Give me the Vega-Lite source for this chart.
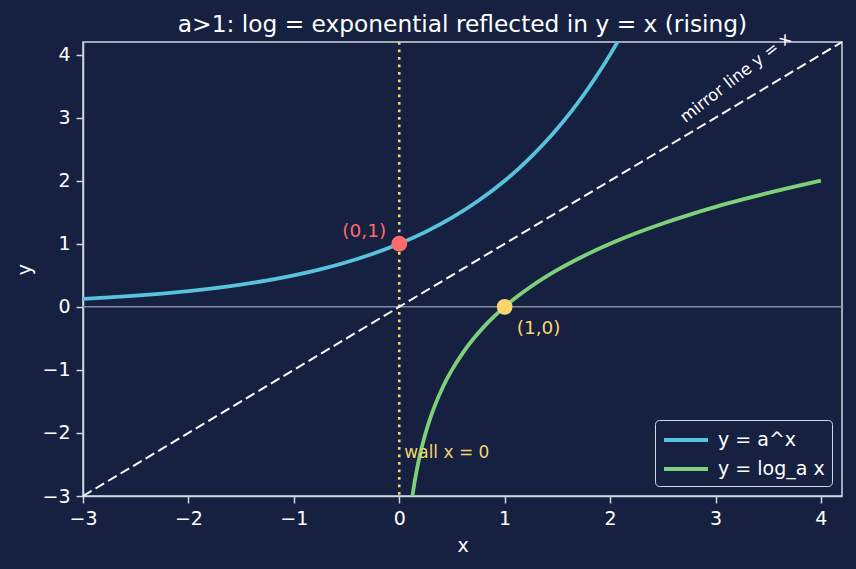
{
  "$schema": "https://vega.github.io/schema/vega-lite/v6.json",
  "width": 759,
  "height": 454,
  "autosize": {"type": "none"},
  "padding": {"left": 83, "top": 42, "right": 14, "bottom": 73},
  "background": "#162040",
  "title": {"text": "a>1: log = exponential reflected in y = x (rising)", "color": "#ffffff", "font": "DejaVu Sans", "fontSize": 23.3, "fontWeight": "normal", "offset": -7},
  "config": {
    "view": {"stroke": "#d0d6e0", "strokeWidth": 1.5},
    "axis": {"labelFont": "DejaVu Sans", "titleFont": "DejaVu Sans", "labelFontSize": 19, "titleFontSize": 19, "titleFontWeight": "normal", "labelColor": "#ffffff", "titleColor": "#ffffff", "domainColor": "#d0d6e0", "tickColor": "#d0d6e0", "grid": false, "tickSize": 7, "labelPadding": 6, "domainWidth": 1.5, "tickWidth": 1.5, "format": "d", "labelFlush": false}
  },
  "datasets": {
    "curves": [
      {"x": -3, "y": 0.125, "s": "y = a^x"},
      {"x": -2.75, "y": 0.1487, "s": "y = a^x"},
      {"x": -2.5, "y": 0.1768, "s": "y = a^x"},
      {"x": -2.25, "y": 0.2102, "s": "y = a^x"},
      {"x": -2, "y": 0.25, "s": "y = a^x"},
      {"x": -1.75, "y": 0.2973, "s": "y = a^x"},
      {"x": -1.5, "y": 0.3536, "s": "y = a^x"},
      {"x": -1.25, "y": 0.4204, "s": "y = a^x"},
      {"x": -1, "y": 0.5, "s": "y = a^x"},
      {"x": -0.75, "y": 0.5946, "s": "y = a^x"},
      {"x": -0.5, "y": 0.7071, "s": "y = a^x"},
      {"x": -0.25, "y": 0.8409, "s": "y = a^x"},
      {"x": 0, "y": 1, "s": "y = a^x"},
      {"x": 0.25, "y": 1.1892, "s": "y = a^x"},
      {"x": 0.5, "y": 1.4142, "s": "y = a^x"},
      {"x": 0.75, "y": 1.6818, "s": "y = a^x"},
      {"x": 1, "y": 2, "s": "y = a^x"},
      {"x": 1.125, "y": 2.181, "s": "y = a^x"},
      {"x": 1.25, "y": 2.3784, "s": "y = a^x"},
      {"x": 1.375, "y": 2.5937, "s": "y = a^x"},
      {"x": 1.5, "y": 2.8284, "s": "y = a^x"},
      {"x": 1.625, "y": 3.0844, "s": "y = a^x"},
      {"x": 1.75, "y": 3.3636, "s": "y = a^x"},
      {"x": 1.875, "y": 3.668, "s": "y = a^x"},
      {"x": 2, "y": 4, "s": "y = a^x"},
      {"x": 2.07, "y": 4.199, "s": "y = a^x"},
      {"x": 0.125, "y": -3, "s": "y = log_a x"},
      {"x": 0.15, "y": -2.737, "s": "y = log_a x"},
      {"x": 0.175, "y": -2.515, "s": "y = log_a x"},
      {"x": 0.2, "y": -2.322, "s": "y = log_a x"},
      {"x": 0.25, "y": -2, "s": "y = log_a x"},
      {"x": 0.3, "y": -1.737, "s": "y = log_a x"},
      {"x": 0.35, "y": -1.515, "s": "y = log_a x"},
      {"x": 0.4, "y": -1.322, "s": "y = log_a x"},
      {"x": 0.45, "y": -1.152, "s": "y = log_a x"},
      {"x": 0.5, "y": -1, "s": "y = log_a x"},
      {"x": 0.6, "y": -0.737, "s": "y = log_a x"},
      {"x": 0.7, "y": -0.515, "s": "y = log_a x"},
      {"x": 0.8, "y": -0.322, "s": "y = log_a x"},
      {"x": 0.9, "y": -0.152, "s": "y = log_a x"},
      {"x": 1, "y": 0, "s": "y = log_a x"},
      {"x": 1.125, "y": 0.17, "s": "y = log_a x"},
      {"x": 1.25, "y": 0.322, "s": "y = log_a x"},
      {"x": 1.5, "y": 0.585, "s": "y = log_a x"},
      {"x": 1.75, "y": 0.807, "s": "y = log_a x"},
      {"x": 2, "y": 1, "s": "y = log_a x"},
      {"x": 2.25, "y": 1.17, "s": "y = log_a x"},
      {"x": 2.5, "y": 1.322, "s": "y = log_a x"},
      {"x": 2.75, "y": 1.459, "s": "y = log_a x"},
      {"x": 3, "y": 1.585, "s": "y = log_a x"},
      {"x": 3.25, "y": 1.7, "s": "y = log_a x"},
      {"x": 3.5, "y": 1.807, "s": "y = log_a x"},
      {"x": 3.75, "y": 1.907, "s": "y = log_a x"},
      {"x": 4, "y": 2, "s": "y = log_a x"}
    ]
  },
  "layer": [
    {
      "data": {"values": [{"y": 0}]},
      "mark": {"type": "rule", "color": "#7f8aa3", "strokeWidth": 1.5},
      "encoding": {"y": {"field": "y", "type": "quantitative", "scale": {"domain": [-3, 4.2], "nice": false, "zero": false}, "axis": {"values": [-3, -2, -1, 0, 1, 2, 3, 4], "title": "y", "titlePadding": 7}}}
    },
    {
      "data": {"values": [{"x": 0}]},
      "mark": {"type": "rule", "color": "#f2d472", "strokeWidth": 2.6, "strokeDash": [2.8, 4.7]},
      "encoding": {"x": {"field": "x", "type": "quantitative", "scale": {"domain": [-3, 4.2], "nice": false, "zero": false}, "axis": {"values": [-3, -2, -1, 0, 1, 2, 3, 4], "title": "x", "titlePadding": 8}}}
    },
    {
      "data": {"values": [{"x": -3, "y": -3}, {"x": 4.2, "y": 4.2}]},
      "mark": {"type": "line", "color": "#ffffff", "strokeWidth": 2, "strokeDash": [10, 4.6]},
      "encoding": {"x": {"field": "x", "type": "quantitative"}, "y": {"field": "y", "type": "quantitative"}}
    },
    {
      "data": {"name": "curves"},
      "mark": {"type": "line", "strokeWidth": 3.8, "clip": true, "interpolate": "monotone"},
      "encoding": {
        "x": {"field": "x", "type": "quantitative"},
        "y": {"field": "y", "type": "quantitative"},
        "color": {"field": "s", "type": "nominal", "scale": {"domain": ["y = a^x", "y = log_a x"], "range": ["#58c3dc", "#7fd07a"]}, "legend": {"title": null, "orient": "bottom-right", "offset": 10, "labelFont": "DejaVu Sans", "labelFontSize": 19, "labelColor": "#ffffff", "labelOffset": 30, "symbolType": "M-1,0H3", "symbolStrokeWidth": 3.8, "symbolSize": 484, "strokeColor": "#d0d6e0", "fillColor": "#162040", "padding": 7, "cornerRadius": 4, "rowPadding": 6}}
      }
    },
    {
      "data": {"values": [{"x": 0, "y": 1, "c": "#ff6b6b"}, {"x": 1, "y": 0, "c": "#f9d56e"}]},
      "mark": {"type": "circle", "size": 250, "opacity": 1},
      "encoding": {"x": {"field": "x", "type": "quantitative"}, "y": {"field": "y", "type": "quantitative"}, "color": {"field": "c", "type": "nominal", "scale": null}}
    },
    {
      "data": {"values": [{"x": -0.124, "y": 1.21, "t": "(0,1)"}]},
      "mark": {"type": "text", "align": "right", "baseline": "middle", "font": "DejaVu Sans", "fontSize": 18.5, "color": "#ff6b6b"},
      "encoding": {"x": {"field": "x", "type": "quantitative"}, "y": {"field": "y", "type": "quantitative"}, "text": {"field": "t"}}
    },
    {
      "data": {"values": [{"x": 1.114, "y": -0.34, "t": "(1,0)"}]},
      "mark": {"type": "text", "align": "left", "baseline": "middle", "font": "DejaVu Sans", "fontSize": 18.5, "color": "#f9d56e"},
      "encoding": {"x": {"field": "x", "type": "quantitative"}, "y": {"field": "y", "type": "quantitative"}, "text": {"field": "t"}}
    },
    {
      "data": {"values": [{"x": 0.048, "y": -2.32, "t": "wall x = 0"}]},
      "mark": {"type": "text", "align": "left", "baseline": "middle", "font": "DejaVu Sans", "fontSize": 17, "color": "#f2d472"},
      "encoding": {"x": {"field": "x", "type": "quantitative"}, "y": {"field": "y", "type": "quantitative"}, "text": {"field": "t"}}
    },
    {
      "data": {"values": [{"x": 3.19, "y": 3.63, "t": "mirror line y = x"}]},
      "mark": {"type": "text", "align": "center", "baseline": "middle", "font": "DejaVu Sans", "fontSize": 16.5, "color": "#ffffff", "angle": 322},
      "encoding": {"x": {"field": "x", "type": "quantitative"}, "y": {"field": "y", "type": "quantitative"}, "text": {"field": "t"}}
    }
  ]
}
